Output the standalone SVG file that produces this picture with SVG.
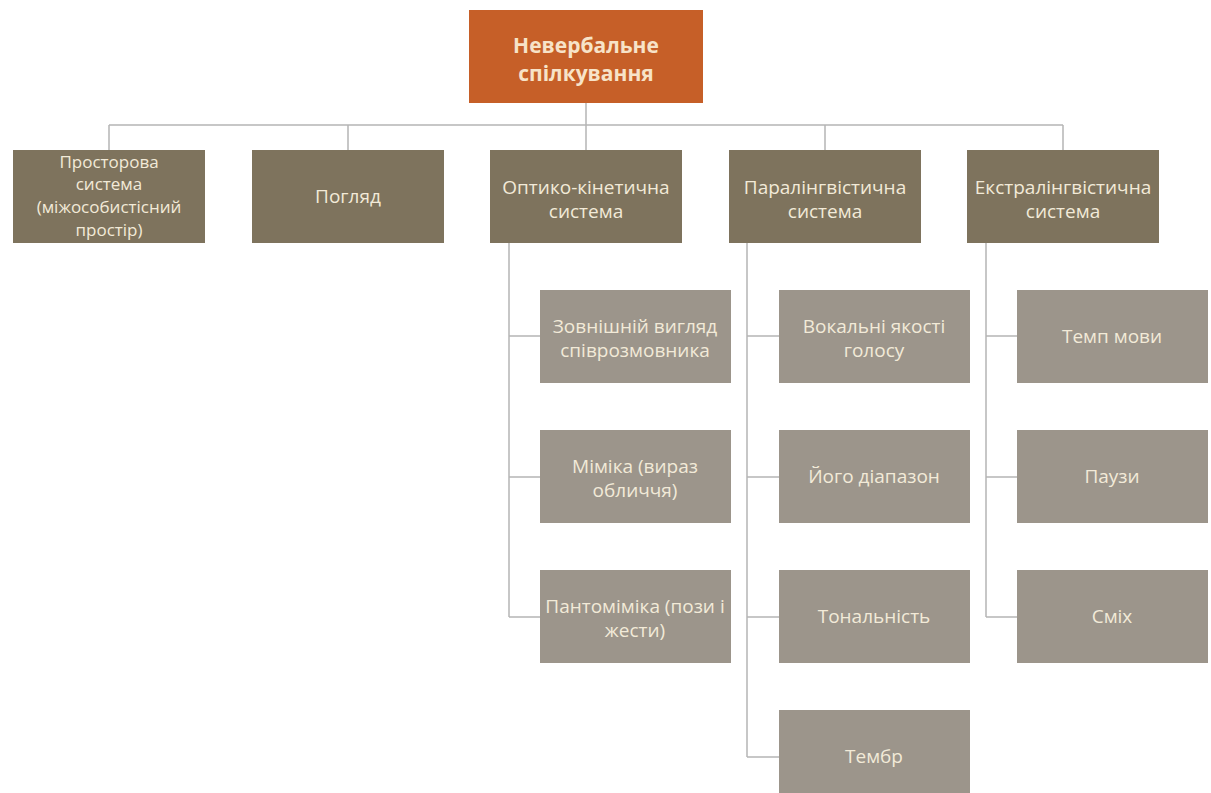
<svg xmlns="http://www.w3.org/2000/svg" width="1211" height="793" viewBox="0 0 1211 793">
<style>
.top{fill:#c65f28}
.l1{fill:#7e735d}
.l2{fill:#9c958b}
.t{font-family:"Open Sans","Liberation Sans",sans-serif;font-size:19px;text-anchor:middle;fill:#f2ead8}
.s{font-size:17px}
.tt{font-family:"Open Sans","Liberation Sans",sans-serif;font-size:21px;font-weight:bold;text-anchor:middle;fill:#f7e3c8}
.c{stroke:#b5b5b5;stroke-width:1.5;fill:none}
</style>
<rect width="1211" height="793" fill="#ffffff"/>
<g id="connectors">
<path class="c" d="M586 103V125M109 125H1063M109 125V150M348 125V150M586 125V150M825 125V150M1063 125V150"/>
<path class="c" d="M509 243V617M509 336H540M509 477H540M509 617H540"/>
<path class="c" d="M747 243V757M747 336H779M747 477H779M747 617H779M747 757H779"/>
<path class="c" d="M986 243V617M986 336H1017M986 477H1017M986 617H1017"/>
</g>
<g id="root"><rect class="top" x="469" y="10" width="234" height="93"/><text class="tt" x="586" y="53">Невербальне</text><text class="tt" x="586" y="81">спілкування</text></g>
<g id="n1"><rect class="l1" x="13" y="150" width="192" height="93"/><text class="t s" x="109" y="168">Просторова</text><text class="t s" x="109" y="190">система</text><text class="t s" x="109" y="213">(міжособистісний</text><text class="t s" x="109" y="236">простір)</text></g>
<g id="n2"><rect class="l1" x="252" y="150" width="192" height="93"/><text class="t" x="348" y="203">Погляд</text></g>
<g id="n3"><rect class="l1" x="490" y="150" width="192" height="93"/><text class="t" x="586" y="194">Оптико-кінетична</text><text class="t" x="586" y="218">система</text></g>
<g id="n4"><rect class="l1" x="729" y="150" width="192" height="93"/><text class="t" x="825" y="194">Паралінгвістична</text><text class="t" x="825" y="218">система</text></g>
<g id="n5"><rect class="l1" x="967" y="150" width="192" height="93"/><text class="t" x="1063" y="194">Екстралінгвістична</text><text class="t" x="1063" y="218">система</text></g>
<g id="n3a"><rect class="l2" x="540" y="290" width="191" height="93"/><text class="t" x="635" y="333">Зовнішній вигляд</text><text class="t" x="635" y="357">співрозмовника</text></g>
<g id="n3b"><rect class="l2" x="540" y="430" width="191" height="93"/><text class="t" x="635" y="473">Міміка (вираз</text><text class="t" x="635" y="497">обличчя)</text></g>
<g id="n3c"><rect class="l2" x="540" y="570" width="191" height="93"/><text class="t" x="635" y="613">Пантоміміка (пози і</text><text class="t" x="635" y="637">жести)</text></g>
<g id="n4a"><rect class="l2" x="779" y="290" width="191" height="93"/><text class="t" x="874" y="333">Вокальні якості</text><text class="t" x="874" y="357">голосу</text></g>
<g id="n4b"><rect class="l2" x="779" y="430" width="191" height="93"/><text class="t" x="874" y="483">Його діапазон</text></g>
<g id="n4c"><rect class="l2" x="779" y="570" width="191" height="93"/><text class="t" x="874" y="623">Тональність</text></g>
<g id="n4d"><rect class="l2" x="779" y="710" width="191" height="93"/><text class="t" x="874" y="763">Тембр</text></g>
<g id="n5a"><rect class="l2" x="1017" y="290" width="191" height="93"/><text class="t" x="1112" y="343">Темп мови</text></g>
<g id="n5b"><rect class="l2" x="1017" y="430" width="191" height="93"/><text class="t" x="1112" y="483">Паузи</text></g>
<g id="n5c"><rect class="l2" x="1017" y="570" width="191" height="93"/><text class="t" x="1112" y="623">Сміх</text></g>
</svg>
